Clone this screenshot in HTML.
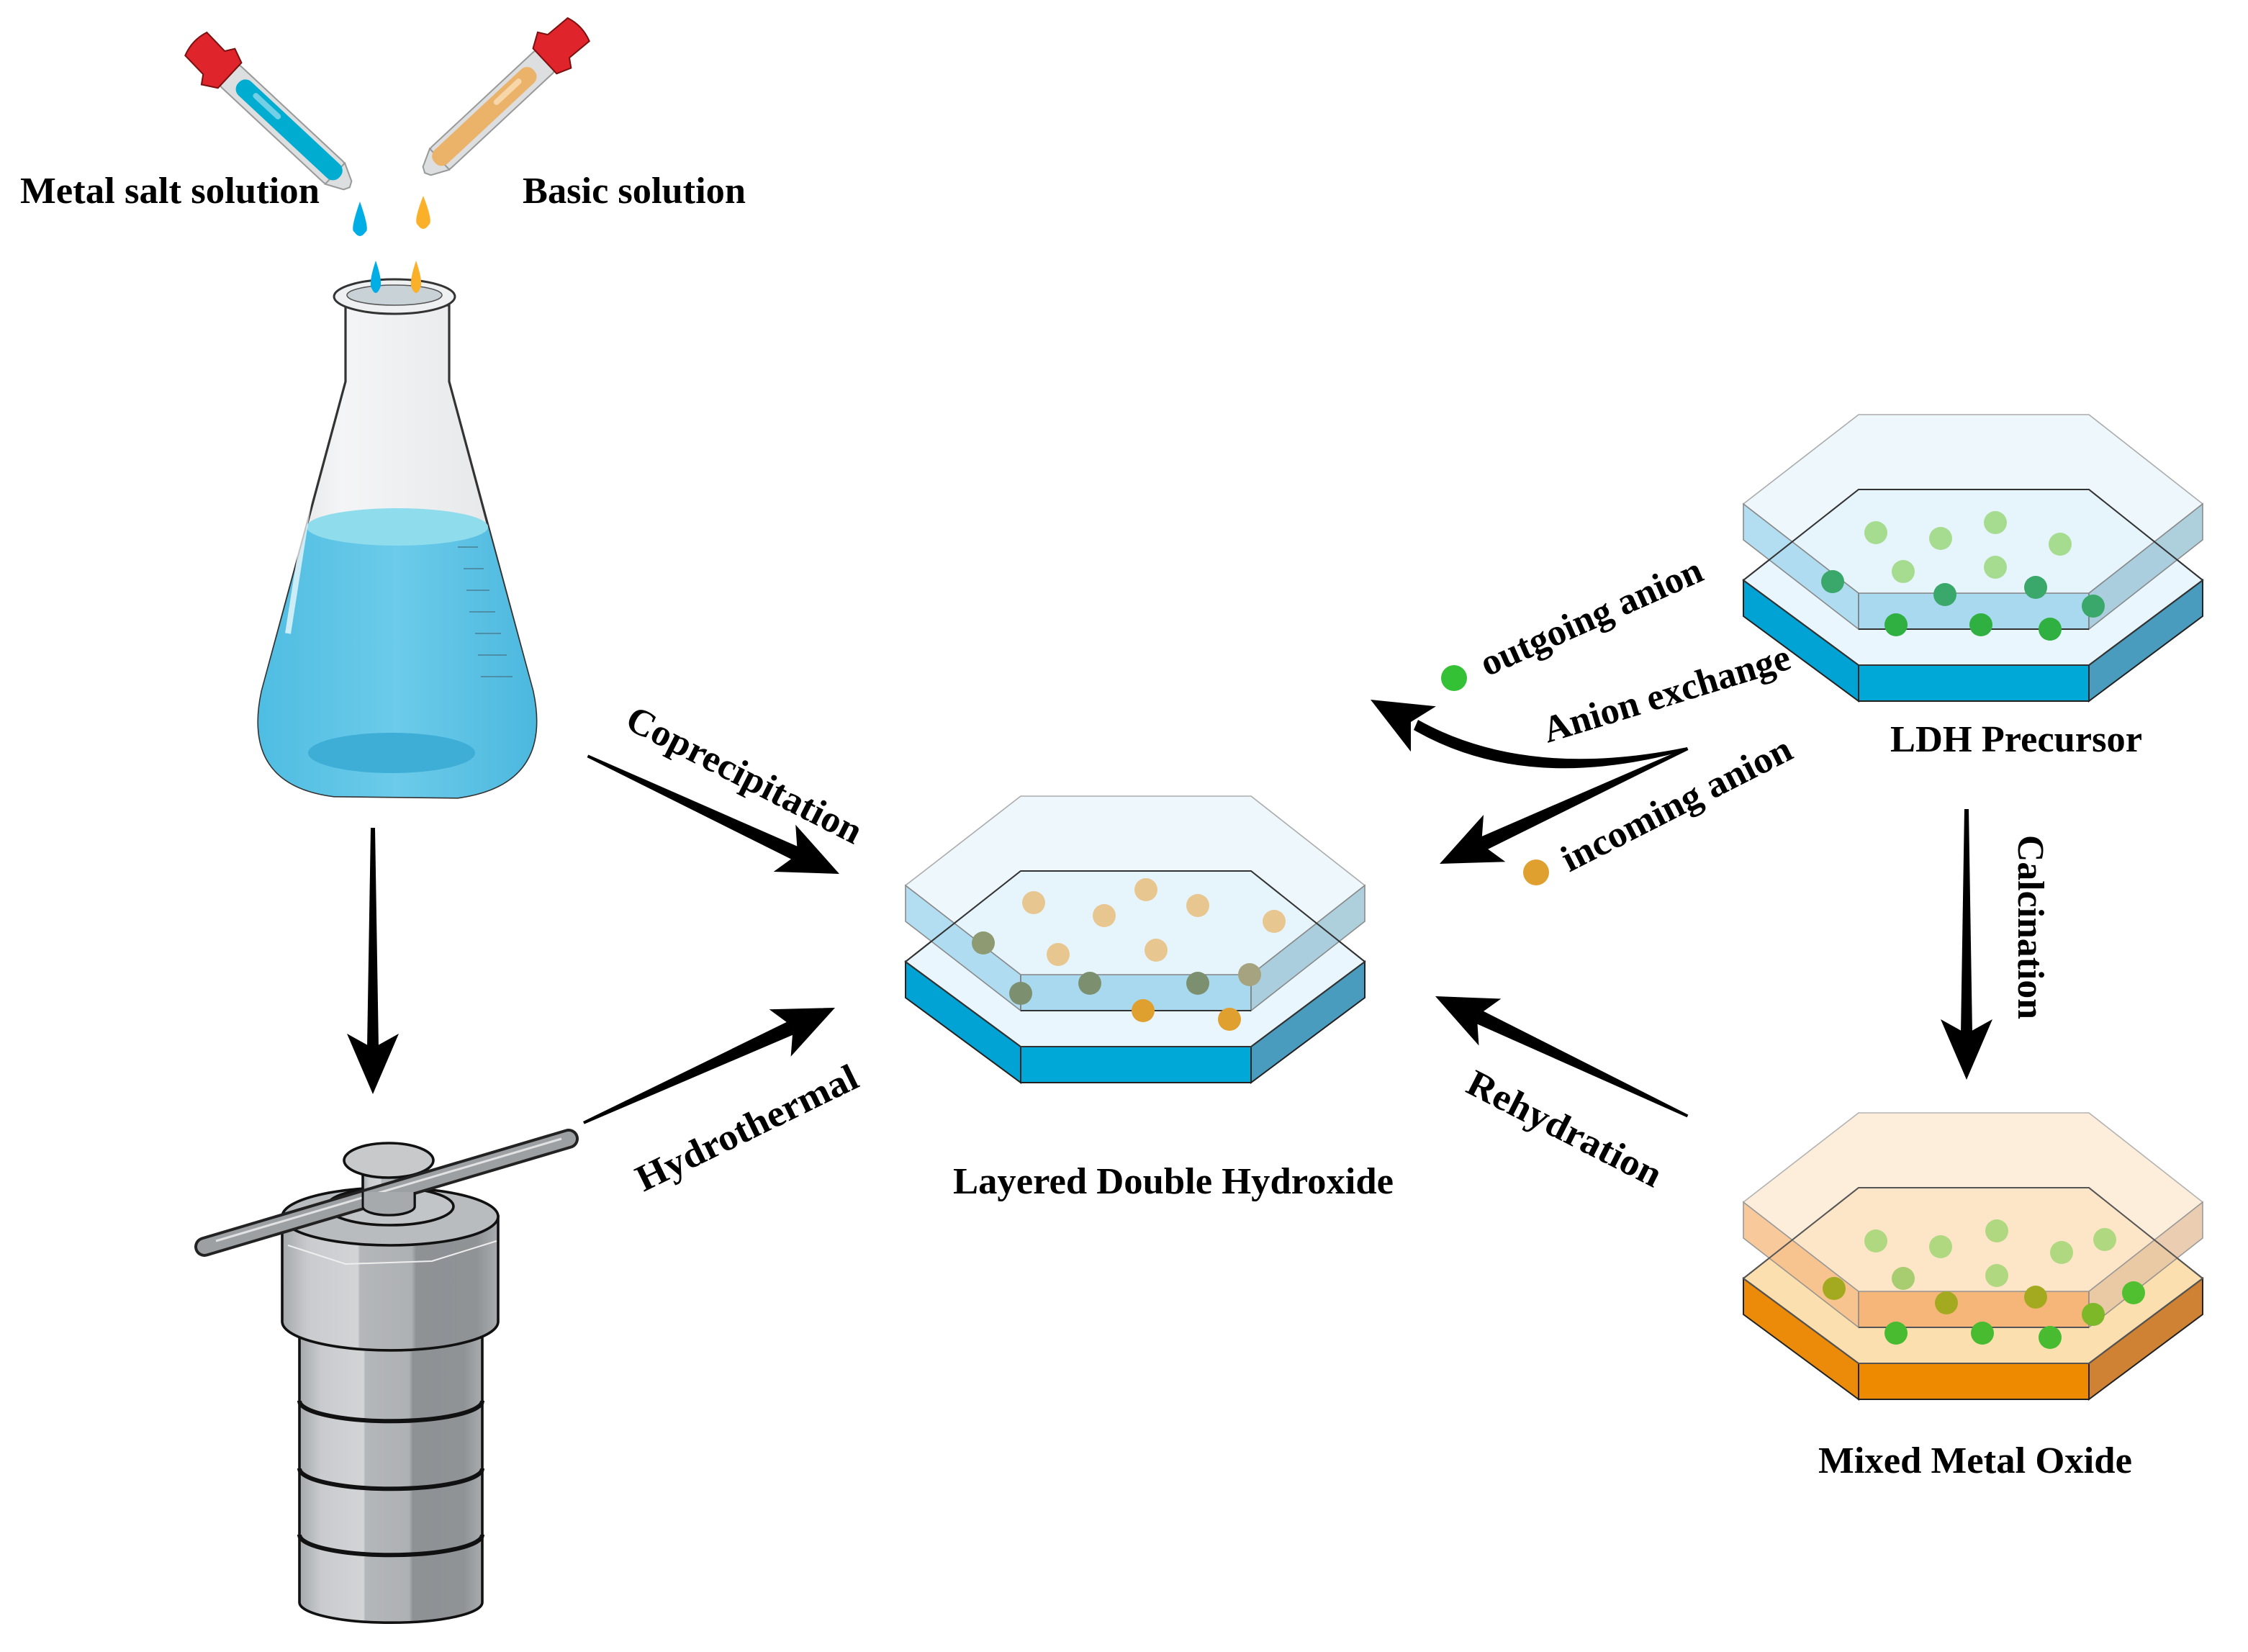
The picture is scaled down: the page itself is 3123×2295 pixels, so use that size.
<!DOCTYPE html>
<html><head><meta charset="utf-8">
<style>html,body{margin:0;padding:0;background:#fff;}svg{display:block;}
text{font-family:"Liberation Serif",serif;font-weight:bold;fill:#000;}</style></head>
<body>
<svg width="3123" height="2295" viewBox="0 0 1561.5 1147.5" xmlns="http://www.w3.org/2000/svg">
<defs>
<linearGradient id="metal" x1="0" x2="1" y1="0" y2="0">
<stop offset="0" stop-color="#a6a9ac"/><stop offset="0.12" stop-color="#c9cbce"/><stop offset="0.35" stop-color="#d2d4d6"/><stop offset="0.36" stop-color="#b4b7ba"/><stop offset="0.6" stop-color="#aeb1b4"/><stop offset="0.62" stop-color="#8e9295"/><stop offset="0.9" stop-color="#8f9396"/><stop offset="1" stop-color="#a9acaf"/>
</linearGradient>
<linearGradient id="glass" x1="0" x2="1"><stop offset="0" stop-color="#d8dadc"/><stop offset="0.3" stop-color="#f4f5f6"/><stop offset="1" stop-color="#e2e4e6"/></linearGradient>
<linearGradient id="liq" x1="0" x2="1"><stop offset="0" stop-color="#4fbde2"/><stop offset="0.5" stop-color="#6ccbea"/><stop offset="1" stop-color="#4cb8de"/></linearGradient>
<g id="head"><polygon points="0,0 -42,-18 -32,0 -42,18" fill="#000"/></g>
</defs>

<!-- ===== Droppers ===== -->
<g transform="translate(142,36) rotate(43)">
<rect x="22" y="-10" width="104" height="20" rx="4" fill="#dcdedf" stroke="#999" stroke-width="1"/>
<path d="M124,-10 L136,-4 L138,0 L136,4 L124,10 Z" fill="#dcdedf" stroke="#999" stroke-width="1"/>
<rect x="32" y="-7" width="96" height="13" rx="6" fill="#00acd0"/>
<rect x="45" y="-4" width="25" height="4" rx="2" fill="#8fd8ea" opacity="0.8"/>
<path d="M-8,-11 Q-12,0 -8,11 L10,12 L14,18 L24,12 L24,-12 L14,-16 L10,-10 Z" fill="#e0242b" stroke="#7a1010" stroke-width="1"/>
</g>
<g transform="translate(396,26) rotate(137)">
<rect x="22" y="-10" width="104" height="20" rx="4" fill="#dcdedf" stroke="#999" stroke-width="1"/>
<path d="M124,-10 L136,-4 L138,0 L136,4 L124,10 Z" fill="#dcdedf" stroke="#999" stroke-width="1"/>
<rect x="34" y="-6" width="94" height="13" rx="6" fill="#ebb26a"/>
<rect x="45" y="0" width="25" height="4" rx="2" fill="#f8d9b0" opacity="0.9"/>
<path d="M-8,-11 Q-12,0 -8,11 L10,12 L14,18 L24,12 L24,-12 L14,-16 L10,-10 Z" fill="#e0242b" stroke="#7a1010" stroke-width="1"/>
</g>
<path d="M250,140 Q243,160 246,161 Q250,167 254,161 Q257,160 250,140Z" fill="#00aee6"/>
<path d="M294,136 Q287,154 290,156 Q294,162 298,156 Q301,154 294,136Z" fill="#fbb02a"/>

<!-- ===== Flask ===== -->
<path d="M240,212 L240,265 L182,480 Q168,545 232,553 L318,554 Q384,545 370,480 L312,265 L312,212 Z" fill="url(#glass)" stroke="#333" stroke-width="1.6"/>
<path d="M213,366 L182,480 Q168,545 232,553 L318,554 Q384,545 370,480 L339,366 Z" fill="url(#liq)"/>
<ellipse cx="276" cy="366" rx="63" ry="13" fill="#8fdced"/>
<ellipse cx="272" cy="523" rx="58" ry="14" fill="#3eaed7"/>
<path d="M222,300 L200,440" stroke="#fff" stroke-width="4" opacity="0.7"/>
<g stroke="#4a7f95" stroke-width="0.8">
<path d="M318,380 L332,380 M322,395 L336,395 M324,410 L340,410 M326,425 L344,425 M330,440 L348,440 M332,455 L352,455 M334,470 L356,470"/>
</g>
<ellipse cx="274" cy="206" rx="42" ry="12" fill="#eef0f1" stroke="#333" stroke-width="1.5"/>
<ellipse cx="274" cy="205" rx="33" ry="7" fill="#c9d2d6" stroke="#555" stroke-width="0.8"/>
<path d="M261,181 Q256,196 258,200 Q261,207 264,200 Q266,196 261,181Z" fill="#00aee6"/>
<path d="M289,181 Q284,196 286,200 Q289,207 292,200 Q294,196 289,181Z" fill="#fbb02a"/>

<!-- ===== Autoclave ===== -->
<g stroke="#111" stroke-width="1.8">
<path d="M208,928 L208,1113 A63,14 0 0 0 335,1113 L335,928 Z" fill="url(#metal)"/>
<path d="M208,973 A63,14 0 0 0 335,973 M208,1020 A63,14 0 0 0 335,1020 M208,1066 A63,14 0 0 0 335,1066" fill="none" stroke-width="3"/>
<path d="M196,845 L196,918 A75,20 0 0 0 346,918 L346,845 Z" fill="url(#metal)"/>
<ellipse cx="271" cy="845" rx="75" ry="20" fill="#b9bcbf"/>
<ellipse cx="271" cy="838" rx="44" ry="13" fill="#c2c5c7"/>
<path d="M252,810 L252,838 A18,6 0 0 0 288,838 L288,810 Z" fill="url(#metal)"/>
<ellipse cx="270" cy="806" rx="31" ry="12" fill="#c7c9cb"/>
</g>
<path d="M200,865 L240,878 L300,876 L345,862" fill="none" stroke="#eee" stroke-width="1"/>
<line x1="142" y1="866" x2="395" y2="791" stroke="#222" stroke-width="14" stroke-linecap="round"/>
<line x1="142" y1="866" x2="395" y2="791" stroke="#9da0a3" stroke-width="10" stroke-linecap="round"/>
<line x1="150" y1="862" x2="390" y2="791" stroke="#e0e2e3" stroke-width="1.5"/>
<path d="M252,828 L252,838 A18,6 0 0 0 288,838 L288,828" fill="#a7aaad" stroke="#111" stroke-width="1.5"/>

<!-- ===== Hexagons ===== -->
<g>
<polygon points="629,668 709,727 709,752 629,693" fill="#00a3d4" stroke="#222" stroke-width="1"/>
<polygon points="709,727 869,727 869,752 709,752" fill="#00a8d8" stroke="#222" stroke-width="1"/>
<polygon points="869,727 948,668 948,693 869,752" fill="#4a9cbf" stroke="#222" stroke-width="1"/>
<polygon points="629,668 709,605 869,605 948,668 869,727 709,727" fill="#e9f6fd" stroke="#222" stroke-width="1"/>
<polygon points="629,615 709,677 709,702 629,640" fill="#a6d8ee" opacity="0.85" stroke="#777" stroke-width="0.8"/>
<polygon points="709,677 869,677 869,702 709,702" fill="#9ed4ec" opacity="0.85" stroke="#777" stroke-width="0.8"/>
<polygon points="869,677 948,615 948,640 869,702" fill="#a0c8d8" opacity="0.85" stroke="#777" stroke-width="0.8"/>
<polygon points="629,615 709,553 869,553 948,615 869,677 709,677" fill="#e6f4fc" opacity="0.7" stroke="#888" stroke-width="0.8"/>
<polygon points="629,668 709,605 869,605 948,668 869,727 709,727" fill="none" stroke="#333" stroke-width="1"/>
<line x1="709" y1="702" x2="869" y2="702" stroke="#333" stroke-width="1"/>
</g>
<g>
<circle cx="718" cy="627" r="8" fill="#e8c690"/><circle cx="767" cy="636" r="8" fill="#e8c690"/><circle cx="796" cy="618" r="8" fill="#e8c690"/><circle cx="832" cy="629" r="8" fill="#e8c690"/><circle cx="885" cy="640" r="8" fill="#e8c690"/><circle cx="735" cy="663" r="8" fill="#e8c690"/><circle cx="803" cy="660" r="8" fill="#e8c690"/>
<circle cx="683" cy="655" r="8" fill="#8e9a72"/><circle cx="868" cy="677" r="8" fill="#a6a480"/><circle cx="709" cy="690" r="8" fill="#7c9070"/><circle cx="757" cy="683" r="8" fill="#7c9070"/><circle cx="832" cy="683" r="8" fill="#7c9070"/>
<circle cx="794" cy="702" r="8" fill="#e0a030"/><circle cx="854" cy="708" r="8" fill="#e0a030"/>
</g>

<g transform="translate(582,-265)">
<polygon points="629,668 709,727 709,752 629,693" fill="#00a3d4" stroke="#222" stroke-width="1"/>
<polygon points="709,727 869,727 869,752 709,752" fill="#00a8d8" stroke="#222" stroke-width="1"/>
<polygon points="869,727 948,668 948,693 869,752" fill="#4a9cbf" stroke="#222" stroke-width="1"/>
<polygon points="629,668 709,605 869,605 948,668 869,727 709,727" fill="#e9f6fd" stroke="#222" stroke-width="1"/>
<polygon points="629,615 709,677 709,702 629,640" fill="#a6d8ee" opacity="0.85" stroke="#777" stroke-width="0.8"/>
<polygon points="709,677 869,677 869,702 709,702" fill="#9ed4ec" opacity="0.85" stroke="#777" stroke-width="0.8"/>
<polygon points="869,677 948,615 948,640 869,702" fill="#a0c8d8" opacity="0.85" stroke="#777" stroke-width="0.8"/>
<polygon points="629,615 709,553 869,553 948,615 869,677 709,677" fill="#e6f4fc" opacity="0.7" stroke="#888" stroke-width="0.8"/>
<polygon points="629,668 709,605 869,605 948,668 869,727 709,727" fill="none" stroke="#333" stroke-width="1"/>
<line x1="709" y1="702" x2="869" y2="702" stroke="#333" stroke-width="1"/>
</g>
<g>
<circle cx="1303" cy="370" r="8" fill="#a6dc90"/><circle cx="1348" cy="374" r="8" fill="#a6dc90"/><circle cx="1386" cy="363" r="8" fill="#a6dc90"/><circle cx="1431" cy="378" r="8" fill="#a6dc90"/><circle cx="1322" cy="397" r="8" fill="#a6dc90"/><circle cx="1386" cy="394" r="8" fill="#a6dc90"/>
<circle cx="1273" cy="404" r="8" fill="#3aa86a"/><circle cx="1351" cy="413" r="8" fill="#3aa86a"/><circle cx="1414" cy="408" r="8" fill="#3aa86a"/><circle cx="1454" cy="421" r="8" fill="#3aa86a"/>
<circle cx="1317" cy="434" r="8" fill="#30b040"/><circle cx="1376" cy="434" r="8" fill="#30b040"/><circle cx="1424" cy="437" r="8" fill="#30b040"/>
</g>

<g transform="translate(582,220)">
<polygon points="629,668 709,727 709,752 629,693" fill="#ec8a0a" stroke="#222" stroke-width="1"/>
<polygon points="709,727 869,727 869,752 709,752" fill="#ee8a00" stroke="#222" stroke-width="1"/>
<polygon points="869,727 948,668 948,693 869,752" fill="#cf8234" stroke="#222" stroke-width="1"/>
<polygon points="629,668 709,605 869,605 948,668 869,727 709,727" fill="#fbdfae" stroke="#222" stroke-width="1"/>
<polygon points="629,615 709,677 709,702 629,640" fill="#f7c08a" opacity="0.85" stroke="#888" stroke-width="0.8"/>
<polygon points="709,677 869,677 869,702 709,702" fill="#f6b070" opacity="0.85" stroke="#888" stroke-width="0.8"/>
<polygon points="869,677 948,615 948,640 869,702" fill="#e8c6a4" opacity="0.85" stroke="#888" stroke-width="0.8"/>
<polygon points="629,615 709,553 869,553 948,615 869,677 709,677" fill="#fde9d0" opacity="0.75" stroke="#999" stroke-width="0.8"/>
<polygon points="629,668 709,605 869,605 948,668 869,727 709,727" fill="none" stroke="#555" stroke-width="1"/>
<line x1="709" y1="702" x2="869" y2="702" stroke="#555" stroke-width="1"/>
</g>
<g>
<circle cx="1303" cy="862" r="8" fill="#b0d880"/><circle cx="1348" cy="866" r="8" fill="#b0d880"/><circle cx="1387" cy="855" r="8" fill="#b0d880"/><circle cx="1432" cy="870" r="8" fill="#b0d880"/><circle cx="1462" cy="861" r="8" fill="#b0d880"/><circle cx="1322" cy="888" r="8" fill="#a8cc70"/><circle cx="1387" cy="886" r="8" fill="#b0d880"/>
<circle cx="1274" cy="895" r="8" fill="#a4aa20"/><circle cx="1352" cy="905" r="8" fill="#a4aa20"/><circle cx="1414" cy="901" r="8" fill="#a4aa20"/><circle cx="1454" cy="913" r="8" fill="#7cb828"/><circle cx="1482" cy="898" r="8" fill="#50c030"/>
<circle cx="1317" cy="926" r="8" fill="#48bb30"/><circle cx="1377" cy="926" r="8" fill="#48bb30"/><circle cx="1424" cy="929" r="8" fill="#48bb30"/>
</g>

<!-- ===== Arrows ===== -->
<g fill="#000">
<g transform="translate(583,607) rotate(25.1)"><polygon points="-193,-1 -32,-5 -32,5 -193,1"/><use href="#head"/></g>
<g transform="translate(580,700) rotate(-24.6)"><polygon points="-192,-1 -32,-5 -32,5 -192,1"/><use href="#head"/></g>
<g transform="translate(259,760) rotate(90)"><polygon points="-185,-1.5 -32,-4 -32,4 -185,1.5"/><use href="#head"/></g>
<g transform="translate(1366,750) rotate(90)"><polygon points="-188,-1.5 -32,-4 -32,4 -188,1.5"/><use href="#head"/></g>
<g transform="translate(997,692) rotate(205.4)"><polygon points="-194,-1 -32,-5 -32,5 -194,1"/><use href="#head"/></g>
<g transform="translate(1000,600) rotate(155.1)"><polygon points="-190,-1 -32,-5 -32,5 -190,1"/><use href="#head"/></g>
<path d="M1172,519 Q1060,542 985,500 L982,507 Q1060,552 1172,521 Z"/>
<g transform="translate(952,486) rotate(209)"><use href="#head"/></g>
</g>
<circle cx="1010" cy="471" r="9" fill="#35c135"/>
<circle cx="1067" cy="606" r="9" fill="#e0a030"/>

<!-- ===== Labels ===== -->
<g font-size="26">
<text x="14" y="141" textLength="208" lengthAdjust="spacingAndGlyphs">Metal salt solution</text>
<text x="363" y="141" textLength="155" lengthAdjust="spacingAndGlyphs">Basic solution</text>
<text x="662" y="829" textLength="306" lengthAdjust="spacingAndGlyphs">Layered Double Hydroxide</text>
<text x="1313" y="522" textLength="175" lengthAdjust="spacingAndGlyphs">LDH Precursor</text>
<text x="1263" y="1023" textLength="218" lengthAdjust="spacingAndGlyphs">Mixed Metal Oxide</text>
<text transform="translate(433,505) rotate(27)" textLength="180" lengthAdjust="spacingAndGlyphs">Coprecipitation</text>
<text transform="translate(447,828) rotate(-26)" textLength="168" lengthAdjust="spacingAndGlyphs">Hydrothermal</text>
<text transform="translate(1402,580) rotate(90)" textLength="128" lengthAdjust="spacingAndGlyphs">Calcination</text>
<text transform="translate(1017,758) rotate(27)" textLength="148" lengthAdjust="spacingAndGlyphs">Rehydration</text>
<text transform="translate(1075,516) rotate(-17)" textLength="178" lengthAdjust="spacingAndGlyphs">Anion exchange</text>
<text transform="translate(1033,470) rotate(-24)" textLength="166" lengthAdjust="spacingAndGlyphs">outgoing anion</text>
<text transform="translate(1090,606) rotate(-27)" textLength="176" lengthAdjust="spacingAndGlyphs">incoming anion</text>
</g>
</svg>
</body></html>
